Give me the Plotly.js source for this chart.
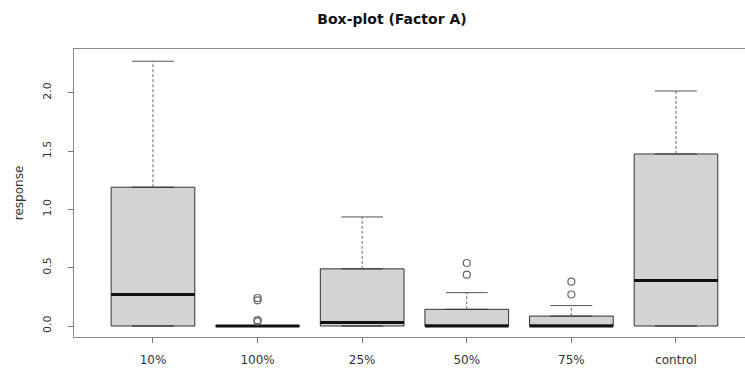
<!DOCTYPE html>
<html>
<head>
<meta charset="utf-8">
<script src="https://cdn.plot.ly/plotly-3.0.1.min.js"></script>
<style>html,body{margin:0;padding:0;background:#fff;}#chart{width:745px;height:369px;}</style>
</head>
<body>
<div id="chart"></div>
<script>
// ---- data ----
const categories = ['10%', '100%', '25%', '50%', '75%', 'control'];
const q1Values = [0, 0, 0, 0, 0, 0];
const medianValues = [0.27, 0, 0.03, 0, 0, 0.39];
const q3Values = [1.19, 0, 0.49, 0.143, 0.085, 1.475];
const lowerWhiskerValues = [0, 0, 0, 0, 0, 0];
const upperWhiskerValues = [2.27, 0, 0.935, 0.286, 0.175, 2.015];
const outlierGroups = ['100%', '100%', '100%', '100%', '50%', '50%', '75%', '75%'];
const outlierValues = [0.04, 0.05, 0.22, 0.24, 0.44, 0.54, 0.27, 0.38];
const yTickValues = [0, 0.5, 1.0, 1.5, 2.0];
const yTickLabels = ['0.0', '0.5', '1.0', '1.5', '2.0'];

// ---- build traces ----
const pos = categories.map((c, i) => i + 1);
const boxHalf = 0.4, capHalf = 0.2;

const whiskX = [], whiskY = [], capX = [], capY = [], medX = [], medY = [];
pos.forEach((p, i) => {
  whiskX.push(p, p, null); whiskY.push(q3Values[i], upperWhiskerValues[i], null);
  whiskX.push(p, p, null); whiskY.push(q1Values[i], lowerWhiskerValues[i], null);
  capX.push(p - capHalf, p + capHalf, null); capY.push(upperWhiskerValues[i], upperWhiskerValues[i], null);
  capX.push(p - capHalf, p + capHalf, null); capY.push(lowerWhiskerValues[i], lowerWhiskerValues[i], null);
  medX.push(p - boxHalf, p + boxHalf, null); medY.push(medianValues[i], medianValues[i], null);
});

const traces = [
  {type: 'scatter', mode: 'lines', x: whiskX, y: whiskY, line: {color: '#666', width: 1, dash: '3px,2px'}, hoverinfo: 'skip'},
  {type: 'scatter', mode: 'lines', x: capX, y: capY, line: {color: '#555', width: 1}, hoverinfo: 'skip'},
  {type: 'box', x: pos, q1: q1Values, median: medianValues, q3: q3Values,
   lowerfence: q1Values, upperfence: q3Values, width: 2 * boxHalf,
   fillcolor: '#d3d3d3', line: {color: '#333', width: 1}, boxpoints: false},
  {type: 'scatter', mode: 'lines', x: medX, y: medY, line: {color: '#111', width: 3}, hoverinfo: 'skip'},
  {type: 'scatter', mode: 'markers', x: outlierGroups.map(g => categories.indexOf(g) + 1), y: outlierValues,
   marker: {symbol: 'circle-open', size: 7, color: '#666', line: {width: 1.2}}, hoverinfo: 'skip'}
];

const fam = 'DejaVu Sans, Liberation Sans, Arial, sans-serif';
const layout = {
  width: 745, height: 369,
  margin: {l: 74, r: 0, t: 49, b: 32},
  paper_bgcolor: '#fff', plot_bgcolor: '#fff',
  showlegend: false, hovermode: false,
  font: {family: fam, color: '#333', size: 11},
  title: {text: 'Box-plot (Factor A)', x: 392 / 745, xanchor: 'center', y: 1 - 19 / 369, yanchor: 'middle',
          font: {family: fam, size: 14, color: '#111', weight: 'bold'}},
  xaxis: {range: [0.245, 6.66], tickvals: pos, ticktext: categories, showgrid: false, zeroline: false,
          showline: true, mirror: true, linecolor: '#888', linewidth: 1,
          ticks: 'outside', ticklen: 5, tickcolor: '#777', ticklabelstandoff: 7,
          tickfont: {family: fam, size: 12, color: '#333'}},
  yaxis: {range: [-0.0943, 2.375], tickvals: yTickValues, ticktext: yTickLabels, tickangle: -90,
          showgrid: false, zeroline: false, showline: true, mirror: true, linecolor: '#888', linewidth: 1,
          ticks: 'outside', ticklen: 5, tickcolor: '#777', ticklabelstandoff: 13,
          tickfont: {family: fam, size: 11, color: '#333'},
          title: {text: 'response', font: {family: fam, size: 12, color: '#333'}, standoff: 14}}
};

Plotly.newPlot('chart', traces, layout, {displayModeBar: false, staticPlot: true});
</script>
</body>
</html>
